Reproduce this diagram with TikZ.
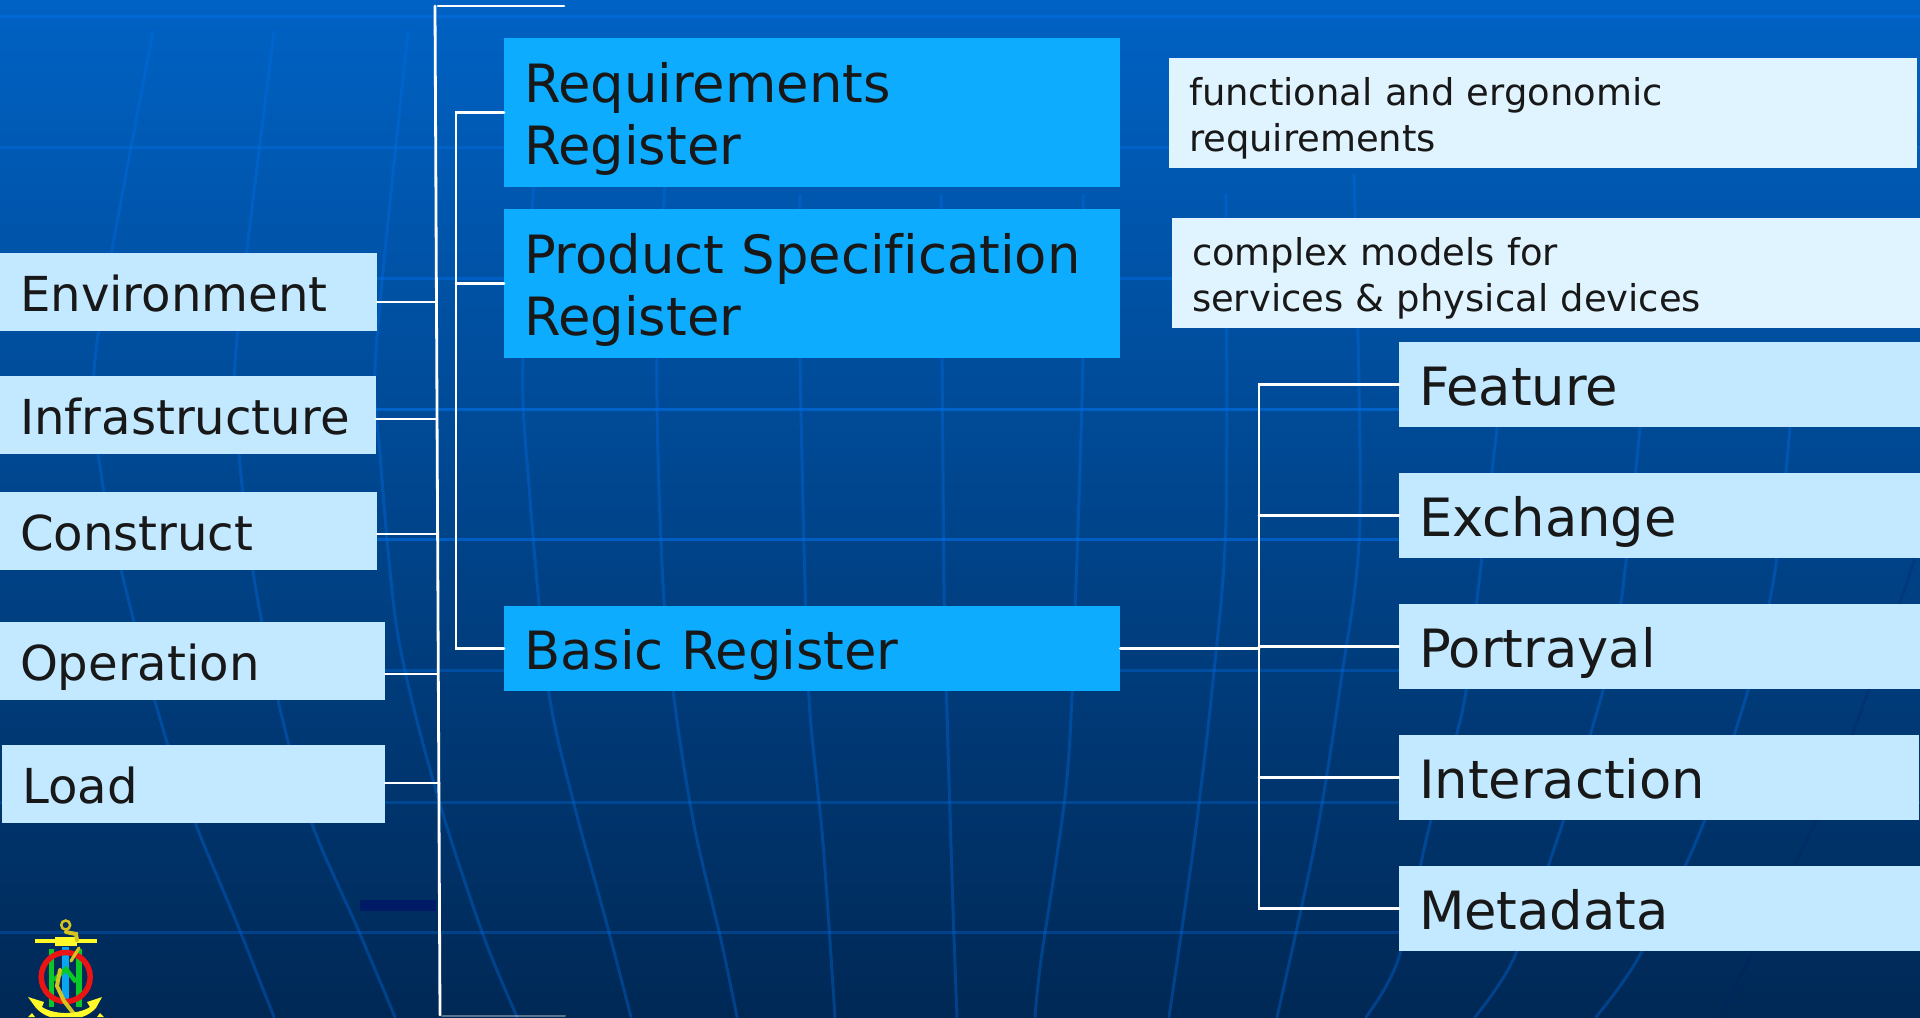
\documentclass[tikz,border=0pt]{standalone}
\usepackage{fontspec}
\setmainfont{DejaVu Sans}[Ligatures=NoCommon]
\definecolor{colorback1}{RGB}{0,98,196}
\definecolor{colorback2}{RGB}{0,72,145}
\definecolor{colorback3}{RGB}{0,40,85}
\definecolor{colorgrid}{RGB}{0,112,235}
\definecolor{colorpale}{RGB}{194,233,255}
\definecolor{colorblue}{RGB}{13,172,255}
\definecolor{colornote}{RGB}{224,244,255}
\definecolor{colorink}{RGB}{24,24,24}
\definecolor{colordark}{RGB}{0,26,102}
\definecolor{coloranchor}{RGB}{255,250,40}
\definecolor{colorchain}{RGB}{215,195,30}
\definecolor{colorshank}{RGB}{10,165,240}
\definecolor{colorbar}{RGB}{10,200,40}
\definecolor{colorring}{RGB}{235,20,20}
\tikzset{
    meridian/.style={colorgrid, opacity=0.35, line width=0.03cm},
    parallel/.style={colorgrid, line width=0.03cm},
    wire/.style={white, line width=0.028cm},
    chain/.style={colorchain, line width=0.032cm},
    box/.style={anchor=west, text=colorink, inner xsep=0.2cm, inner ysep=0, outer sep=0, align=left},
    leftbox/.style={box, fill=colorpale, font=\fontsize{13.7}{16.3}\selectfont, text height=11pt, text depth=0pt},
    regbox/.style={box, fill=colorblue, font=\fontsize{15}{17.8}\selectfont, text height=12pt, text depth=#1},
    rightbox/.style={box, fill=colorpale, font=\fontsize{15}{17.8}\selectfont, text height=12pt, text depth=0pt},
    notebox/.style={box, fill=colornote, font=\fontsize{10.5}{12.9}\selectfont, text height=8.8pt, text depth=12.9pt},
}
\begin{document}
\begin{tikzpicture}[x=0.01cm, y=-0.01cm, line cap=round]
    \clip (0,0) rectangle (1920,1017);
    \shade [top color=colorback1, middle color=colorback2, bottom color=colorback3] (0,0) rectangle (1920,1017);

    \foreach \ypos/\lineop in {16/0.45, 147/0.35, 278/0.45, 409/0.6, 539/0.6, 670/0.35, 802/0.3, 932/0.3}
        \draw [parallel, opacity=\lineop] (0,\ypos) -- (1920,\ypos);

    \draw [meridian] plot [smooth] coordinates {(153,32) (96,350) (102,480) (134,622) (166,739) (198,830) (236,921) (274,1017)};
    \draw [meridian] plot [smooth] coordinates {(274,32) (236,350) (239,454) (255,584) (281,713) (312,824) (357,927) (395,1017)};
    \draw [meridian] plot [smooth] coordinates {(408,32) (376,350) (380,454) (395,616) (415,713) (446,824) (485,940) (517,1017)};
    \draw [meridian] plot [smooth] coordinates {(540,100) (523,357) (529,486) (548,687) (574,804) (606,921) (631,1017)};
    \draw [meridian] plot [smooth] coordinates {(670,100) (657,357) (663,584) (676,713) (695,830) (721,940) (737,1017)};
    \draw [meridian] plot [smooth] coordinates {(800,195) (800,357) (805,584) (810,713) (823,843) (835,1017)};
    \draw [meridian] plot [smooth] coordinates {(941,195) (944,584) (947,713) (953,908) (957,1017)};
    \draw [meridian] plot [smooth] coordinates {(1083,195) (1083,357) (1076,584) (1067,778) (1041,960) (1035,1017)};
    \draw [meridian] plot [smooth] coordinates {(1226,195) (1226,519) (1213,681) (1194,843) (1169,1017)};
    \draw [meridian] plot [smooth] coordinates {(1354,175) (1360,519) (1341,681) (1315,843) (1277,1017)};
    \draw [meridian] plot [smooth] coordinates {(1497,428) (1475,616) (1462,713) (1430,824) (1398,960) (1366,1017)};
    \draw [meridian] plot [smooth] coordinates {(1640,428) (1621,603) (1602,694) (1558,837) (1513,960) (1475,1017)};
    \draw [meridian] plot [smooth] coordinates {(1790,428) (1775,571) (1749,687) (1698,837) (1637,960) (1596,1017)};
    \draw [meridian, colordark, opacity=0.2] plot [smooth] coordinates {(1915,558) (1895,616) (1830,790) (1720,1017)};

    \fill [colordark] (360,900) rectangle (436,911);

    \node [leftbox, text width=3.37cm, minimum height=0.78cm] (envbox) at (0,292) {Environment};
    \node [leftbox, text width=3.36cm, minimum height=0.78cm] (infrabox) at (0,415) {Infrastructure};
    \node [leftbox, text width=3.37cm, minimum height=0.78cm] (constbox) at (0,531) {Construct};
    \node [leftbox, text width=3.45cm, minimum height=0.78cm] (operbox) at (0,661) {Operation};
    \node [leftbox, text width=3.43cm, minimum height=0.78cm] (loadbox) at (2,784) {Load};

    \node [regbox=17.8pt, text width=5.76cm, minimum height=1.49cm] (reqbox) at (504,112.5) {Requirements\\Register};
    \node [regbox=17.8pt, text width=5.76cm, minimum height=1.49cm] (prodbox) at (504,283.5) {Product Specification\\Register};
    \node [regbox=0pt, text width=5.76cm, minimum height=0.85cm] (basicbox) at (504,648.5) {Basic Register};

    \node [notebox, text width=7.08cm, minimum height=1.10cm] (reqnote) at (1169,113) {functional and ergonomic\\requirements};
    \node [notebox, text width=7.08cm, minimum height=1.10cm] (prodnote) at (1172,273) {complex models for\\services \& physical devices};

    \node [rightbox, text width=4.81cm, minimum height=0.85cm] (featbox) at (1399,384.5) {Feature};
    \node [rightbox, text width=4.81cm, minimum height=0.85cm] (exchbox) at (1399,515.5) {Exchange};
    \node [rightbox, text width=4.81cm, minimum height=0.85cm] (portbox) at (1399,646.5) {Portrayal};
    \node [rightbox, text width=4.80cm, minimum height=0.85cm] (interbox) at (1399,777.5) {Interaction};
    \node [rightbox, text width=4.81cm, minimum height=0.85cm] (metabox) at (1399,908.5) {Metadata};

    \coordinate (trunktop) at (435,6);
    \coordinate (trunkbot) at (440,1015);
    \coordinate (topend) at (564,6);
    \coordinate (botend) at (565,1016);
    \coordinate (envjoin) at (436,302);
    \coordinate (infrajoin) at (437,419);
    \coordinate (constjoin) at (437.5,534);
    \coordinate (operjoin) at (437.5,674);
    \coordinate (loadjoin) at (439,783);
    \coordinate (innertop) at (456,112.5);
    \coordinate (innerbot) at (456,648.5);
    \coordinate (rightjoin) at (1259,648.5);
    \coordinate (righttop) at (1259,384.5);
    \coordinate (rightbot) at (1259,908.5);

    \draw [wire] (trunktop) -- (trunkbot);
    \draw [wire] (trunktop) ++(3,0) -- (topend);
    \draw [white, opacity=0.35, line width=0.02cm] (trunkbot) ++(2,1) -- (botend);
    \draw [wire] (envjoin) -- (envjoin -| envbox.east);
    \draw [wire] (infrajoin) -- (infrajoin -| infrabox.east);
    \draw [wire] (constjoin) -- (constjoin -| constbox.east);
    \draw [wire] (operjoin) -- (operjoin -| operbox.east);
    \draw [wire] (loadjoin) -- (loadjoin -| loadbox.east);

    \draw [wire] (reqbox.west) -- (innertop) -- (innerbot) -- (basicbox.west);
    \draw [wire] (prodbox.west) -- (prodbox.west -| innertop);

    \draw [wire] (basicbox.east) -- (rightjoin);
    \draw [wire] (featbox.west) -- (righttop) -- (rightbot) -- (metabox.west);
    \draw [wire] (exchbox.west) -- (exchbox.west -| righttop);
    \draw [wire] (portbox.west) -- (portbox.west -| righttop);
    \draw [wire] (interbox.west) -- (interbox.west -| righttop);

    \fill [colorshank] (62,947) rectangle (69,1000);
    \fill [colorbar] (49,949) rectangle (54,1007);
    \fill [colorbar] (76,949) rectangle (82,1007);
    \draw [colorbar, line width=0.045cm, line cap=butt, line join=miter] (54,980) -- (66,969) -- (76,982);
    \draw [colorring, line width=0.055cm] (65.7,977) circle [radius=24.5];
    \fill [coloranchor] (35,939) rectangle (97,943);
    \fill [coloranchor] (55,937) rectangle (77,946);
    \draw [chain, line width=0.025cm] (65.7,925) circle [radius=4.5];
    \draw [chain, line width=0.04cm] (66,932) -- (76,934) -- (77,940);
    \draw [chain] (79,948) -- (71,961);
    \draw [chain, line width=0.04cm] (60,970) -- (57,986) -- (64,1001) -- (74,1014);
    \fill [coloranchor] (28,997) -- (44,1002) -- (42,1007) .. controls (50,1012) and (60,1013) .. (66,1013) .. controls (74,1013) and (84,1011) .. (90,1007) -- (87,1002) -- (102,997) -- (96,1008) .. controls (92,1012) and (88,1015) .. (82,1017) -- (50,1017) .. controls (44,1015) and (40,1012) .. (36,1008) -- cycle;
    \fill [coloranchor] (28,1017) -- (32,1013) -- (35,1017) -- cycle;
    \fill [coloranchor] (104,1017) -- (100,1013) -- (97,1017) -- cycle;
\end{tikzpicture}
\end{document}
